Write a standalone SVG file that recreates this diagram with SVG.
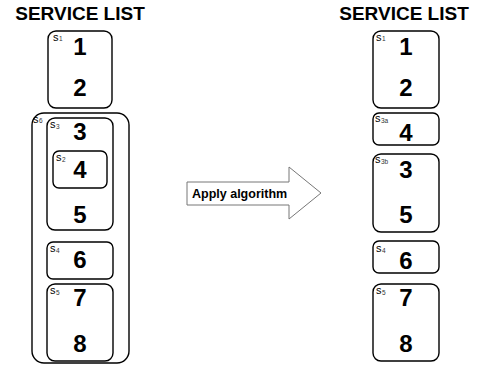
<svg xmlns="http://www.w3.org/2000/svg" width="477" height="366" viewBox="0 0 477 366">
  <style>
    .title { font-family: "Liberation Sans", Arial, sans-serif; font-weight: bold; font-size: 19px; fill: #000; text-anchor: middle; }
    .box { fill: none; stroke: #000; stroke-width: 1.4; }
    .num { font-family: "Liberation Sans", Arial, sans-serif; font-weight: bold; font-size: 24px; fill: #000; text-anchor: middle; }
    .lbl { font-family: "Liberation Sans", Arial, sans-serif; font-size: 11px; fill: #000; }
    .sub { font-size: 6.5px; fill: #333; }
    .arrow { fill: #fff; stroke: #777; stroke-width: 1; }
    .arrowtxt { font-family: "Liberation Sans", Arial, sans-serif; font-weight: bold; font-size: 12.5px; fill: #000; }
  </style>

  <rect width="477" height="366" fill="#fff"/>

  <!-- left: original service list -->
  <text class="title" x="80" y="20">SERVICE LIST</text>

  <g id="L-s1">
    <rect class="box" x="48" y="31" width="64" height="77" rx="8"/>
    <text class="lbl" x="53" y="41">s<tspan class="sub" dx="0.5" dy="0">1</tspan></text>
    <text class="num" x="80" y="55">1</text>
    <text class="num" x="80" y="96">2</text>
  </g>

  <g id="L-s6">
    <rect class="box" x="32" y="113" width="97" height="250" rx="12"/>
    <text class="lbl" x="33" y="123">s<tspan class="sub" dx="0.5" dy="-0.5">6</tspan></text>
  </g>

  <g id="L-s3">
    <rect class="box" x="47" y="118" width="66" height="112" rx="8"/>
    <text class="lbl" x="50" y="128">s<tspan class="sub" dx="0.5" dy="1">3</tspan></text>
    <text class="num" x="80" y="140">3</text>
    <text class="num" x="80" y="223">5</text>
  </g>

  <g id="L-s2">
    <rect class="box" x="53" y="151" width="54" height="37" rx="6"/>
    <text class="lbl" x="56" y="161">s<tspan class="sub" dx="0.5" dy="1">2</tspan></text>
    <text class="num" x="80" y="178">4</text>
  </g>

  <g id="L-s4">
    <rect class="box" x="47" y="242" width="66" height="37" rx="6"/>
    <text class="lbl" x="50" y="252">s<tspan class="sub" dx="0.5" dy="1">4</tspan></text>
    <text class="num" x="80" y="268">6</text>
  </g>

  <g id="L-s5">
    <rect class="box" x="47" y="284" width="66" height="77" rx="8"/>
    <text class="lbl" x="50" y="294">s<tspan class="sub" dx="0.5" dy="1">5</tspan></text>
    <text class="num" x="80" y="306">7</text>
    <text class="num" x="80" y="352">8</text>
  </g>

  <!-- transformation arrow -->
  <g id="apply">
    <path class="arrow" d="M187,182 H289 V167 L321,193 L289,219 V205 H187 Z"/>
    <text class="arrowtxt" x="192" y="198">Apply algorithm</text>
  </g>

  <!-- right: resulting service list -->
  <text class="title" x="404" y="20">SERVICE LIST</text>

  <g id="R-s1">
    <rect class="box" x="373" y="31" width="66" height="77" rx="8"/>
    <text class="lbl" x="376" y="41">s<tspan class="sub" dx="0.5" dy="0">1</tspan></text>
    <text class="num" x="406" y="55">1</text>
    <text class="num" x="406" y="96">2</text>
  </g>

  <g id="R-s3a">
    <rect class="box" x="373" y="113" width="66" height="32" rx="6"/>
    <text class="lbl" x="375" y="122">s<tspan class="sub" dx="0.5" dy="1">3a</tspan></text>
    <text class="num" x="406" y="141">4</text>
  </g>

  <g id="R-s3b">
    <rect class="box" x="373" y="154" width="66" height="78" rx="8"/>
    <text class="lbl" x="375" y="163">s<tspan class="sub" dx="0.5" dy="1">3b</tspan></text>
    <text class="num" x="406" y="178">3</text>
    <text class="num" x="406" y="223">5</text>
  </g>

  <g id="R-s4">
    <rect class="box" x="373" y="241" width="66" height="32" rx="6"/>
    <text class="lbl" x="376" y="252">s<tspan class="sub" dx="0.5" dy="1">4</tspan></text>
    <text class="num" x="406" y="269">6</text>
  </g>

  <g id="R-s5">
    <rect class="box" x="373" y="284" width="66" height="77" rx="8"/>
    <text class="lbl" x="376" y="294">s<tspan class="sub" dx="0.5" dy="1">5</tspan></text>
    <text class="num" x="406" y="306">7</text>
    <text class="num" x="406" y="352">8</text>
  </g>

  <g id="connectors"/>
</svg>
